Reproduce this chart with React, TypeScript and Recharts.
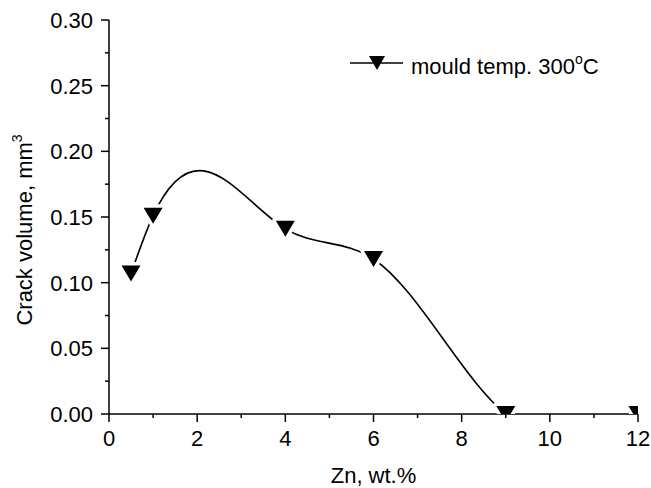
import { LineChart, Line, XAxis, YAxis, Legend } from 'recharts';

const zn = [0.5, 1, 4, 6, 9, 12];
const crackVolume = [0.107, 0.151, 0.141, 0.118, 0, 0];
const xTicks = [0, 1, 2, 3, 4, 5, 6, 7, 8, 9, 10, 11, 12];
const yTicks = [0, 0.025, 0.05, 0.075, 0.1, 0.125, 0.15, 0.175, 0.2, 0.225, 0.25, 0.275, 0.3];
const seriesName = 'mould temp. 300';

const data = zn.map((x, i) => ({ zn: x, vol: crackVolume[i] }));

const FONT = '"Liberation Sans", Arial, sans-serif';
const AXIS = { stroke: '#000', strokeWidth: 1.5 };

const isMajorX = (v: number) => v % 2 === 0;
const isMajorY = (v: number) => Math.abs(v / 0.05 - Math.round(v / 0.05)) < 1e-6;

// natural cubic spline, y as a function of x (like Origin's "Spline" connect)
function splineCurve(context: any) {
  let xs: number[] = [];
  let ys: number[] = [];
  return {
    areaStart() {},
    areaEnd() {},
    lineStart() {
      xs = [];
      ys = [];
    },
    point(x: number, y: number) {
      xs.push(+x);
      ys.push(+y);
    },
    lineEnd() {
      const n = xs.length;
      if (n === 0) return;
      context.moveTo(xs[0], ys[0]);
      if (n < 3) {
        for (let i = 1; i < n; i++) context.lineTo(xs[i], ys[i]);
        return;
      }
      const h: number[] = [];
      for (let i = 0; i < n - 1; i++) h.push(xs[i + 1] - xs[i]);
      const a: number[] = new Array(n).fill(0);
      const b: number[] = new Array(n).fill(1);
      const c: number[] = new Array(n).fill(0);
      const r: number[] = new Array(n).fill(0);
      for (let i = 1; i < n - 1; i++) {
        a[i] = h[i - 1];
        b[i] = 2 * (h[i - 1] + h[i]);
        c[i] = h[i];
        r[i] = 6 * ((ys[i + 1] - ys[i]) / h[i] - (ys[i] - ys[i - 1]) / h[i - 1]);
      }
      for (let i = 1; i < n; i++) {
        const m = a[i] / b[i - 1];
        b[i] -= m * c[i - 1];
        r[i] -= m * r[i - 1];
      }
      const M: number[] = new Array(n).fill(0);
      M[n - 1] = r[n - 1] / b[n - 1];
      for (let i = n - 2; i >= 0; i--) M[i] = (r[i] - c[i] * M[i + 1]) / b[i];
      for (let i = 0; i < n - 1; i++) {
        const hi = h[i];
        const s = (ys[i + 1] - ys[i]) / hi;
        const d0 = s - (hi * (2 * M[i] + M[i + 1])) / 6;
        const d1 = s + (hi * (M[i] + 2 * M[i + 1])) / 6;
        context.bezierCurveTo(
          xs[i] + hi / 3, ys[i] + (d0 * hi) / 3,
          xs[i + 1] - hi / 3, ys[i + 1] - (d1 * hi) / 3,
          xs[i + 1], ys[i + 1]
        );
      }
    },
  };
}

const triPoints = (cx: number, cy: number, w: number, h: number) =>
  `${cx - w / 2},${cy - h / 2} ${cx + w / 2},${cy - h / 2} ${cx},${cy + h / 2}`;

const TriDot = (props: any) => {
  const { cx, cy, index } = props;
  if (cx == null || cy == null) return null;
  return (
    <g key={`dot-${index}`}>
      <polygon points={triPoints(cx, cy, 19, 16)} fill="#fff" stroke="#fff" strokeWidth={7} strokeLinejoin="round" />
      <polygon points={triPoints(cx, cy, 19, 16)} fill="#000" />
    </g>
  );
};

const BottomTick = (props: any) => {
  const { x, y, payload } = props;
  const major = isMajorX(payload.value);
  return (
    <g>
      <line x1={x} x2={x} y1={y} y2={y + (major ? 8 : 4)} {...AXIS} />
      {major && (
        <text x={x} y={y + 32} textAnchor="middle" fontSize={22} fontFamily={FONT} fill="#000">
          {payload.value}
        </text>
      )}
    </g>
  );
};

const TopTick = (props: any) => {
  const { x, y, payload } = props;
  const major = isMajorX(payload.value);
  return <line x1={x} x2={x} y1={y} y2={y - (major ? 8 : 4)} {...AXIS} />;
};

const LeftTick = (props: any) => {
  const { x, y, payload } = props;
  const major = isMajorY(payload.value);
  return (
    <g>
      <line x1={x} x2={x - (major ? 8 : 4)} y1={y} y2={y} {...AXIS} />
      {major && (
        <text x={x - 16} y={y + 8} textAnchor="end" fontSize={22} fontFamily={FONT} fill="#000">
          {payload.value.toFixed(2)}
        </text>
      )}
    </g>
  );
};

const RightTick = (props: any) => {
  const { x, y, payload } = props;
  const major = isMajorY(payload.value);
  return <line x1={x} x2={x + (major ? 8 : 4)} y1={y} y2={y} {...AXIS} />;
};

const LegendBox = () => (
  <svg width={290} height={30} style={{ display: 'block' }}>
    <line x1={5} x2={58} y1={15} y2={15} stroke="#000" strokeWidth={1.5} />
    <polygon points={triPoints(32, 15, 16, 14)} fill="#000" />
    <text x={66} y={26} fontSize={22} fontFamily={FONT} fill="#000">
      {seriesName}
      <tspan fontSize={14} dy={-10}>o</tspan>
      <tspan dy={10}>C</tspan>
    </text>
  </svg>
);

export default function App() {
  return (
    <div style={{ position: 'absolute', left: 0, top: 0, background: '#fff' }}>
      <LineChart width={651} height={488} data={data} margin={{ top: 20, right: 13, bottom: 0, left: 0 }}>
        <Line
          xAxisId="bottom"
          yAxisId="left"
          type={splineCurve as any}
          dataKey="vol"
          stroke="#000"
          strokeWidth={1.6}
          dot={TriDot}
          activeDot={false}
          isAnimationActive={false}
        />
        <XAxis
          xAxisId="bottom"
          dataKey="zn"
          type="number"
          domain={[0, 12]}
          ticks={xTicks}
          interval={0}
          allowDataOverflow
          height={74}
          tickSize={0}
          tickMargin={0}
          tickLine={false}
          axisLine={AXIS}
          tick={BottomTick}
          label={{
            content: (p: any) => {
              const vb = p.viewBox;
              return (
                <text x={vb.x + vb.width / 2} y={vb.y + 69} textAnchor="middle" fontSize={22} fontFamily={FONT} fill="#000">
                  Zn, wt.%
                </text>
              );
            },
          }}
        />
        <XAxis
          xAxisId="top"
          orientation="top"
          type="number"
          domain={[0, 12]}
          ticks={xTicks}
          interval={0}
          allowDataOverflow
          height={0}
          tickSize={0}
          tickMargin={0}
          tickLine={false}
          axisLine={AXIS}
          tick={TopTick}
        />
        <YAxis
          yAxisId="left"
          type="number"
          domain={[0, 0.3]}
          ticks={yTicks}
          interval={0}
          allowDataOverflow
          width={109}
          tickSize={0}
          tickMargin={0}
          tickLine={false}
          axisLine={AXIS}
          tick={LeftTick}
          label={{
            content: (p: any) => {
              const vb = p.viewBox;
              const cx = vb.x + 32;
              const cy = vb.y + vb.height / 2 + 13;
              return (
                <text
                  x={cx}
                  y={cy}
                  transform={`rotate(-90, ${cx}, ${cy})`}
                  textAnchor="middle"
                  fontSize={22}
                  fontFamily={FONT}
                  fill="#000"
                >
                  Crack volume, mm
                  <tspan fontSize={14} dy={-10}>3</tspan>
                </text>
              );
            },
          }}
        />
        <YAxis
          yAxisId="right"
          orientation="right"
          type="number"
          domain={[0, 0.3]}
          ticks={yTicks}
          interval={0}
          allowDataOverflow
          width={0}
          tickSize={0}
          tickMargin={0}
          tickLine={false}
          axisLine={AXIS}
          tick={RightTick}
        />
        <Legend
          layout="horizontal"
          verticalAlign="middle"
          align="center"
          content={() => <LegendBox />}
          wrapperStyle={{ position: 'absolute', top: 48, left: 345, width: 290, height: 30 }}
        />
      </LineChart>
    </div>
  );
}
